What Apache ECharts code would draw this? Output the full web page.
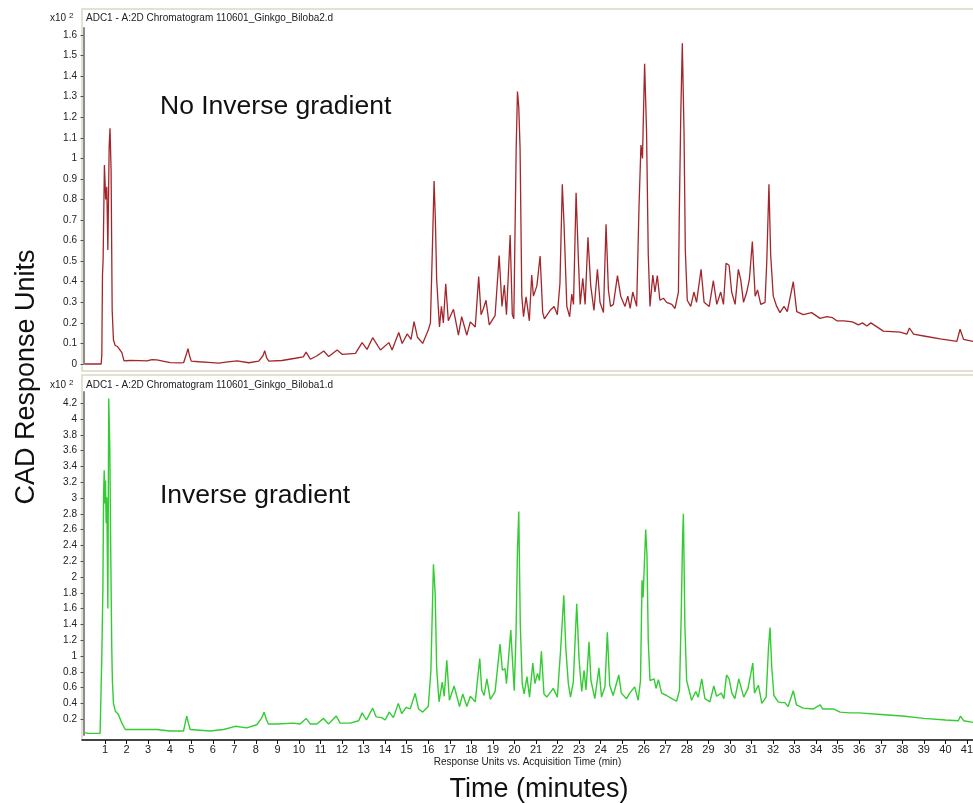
<!DOCTYPE html>
<html>
<head>
<meta charset="utf-8">
<script src="https://cdn.jsdelivr.net/npm/echarts@6/dist/echarts.min.js"></script>
<style>
  html, body { margin: 0; padding: 0; background: #fff; }
  #chart { width: 973px; height: 803px; }
</style>
</head>
<body>
<div id="chart"></div>
<script>
// top trace: No Inverse gradient (x10^2 response units)
const timeTop = [0.05,0.82,0.85,0.88,0.91,0.97,1.03,1.08,1.13,1.19,1.23,1.28,1.33,1.39,1.47,1.58,1.67,1.78,1.88,2.16,2.6,2.94,3.18,3.4,4.02,4.48,4.65,4.78,4.85,4.92,5.0,5.35,5.8,6.27,6.7,7.13,7.67,8.13,8.33,8.41,8.5,8.6,9.21,9.83,10.2,10.33,10.53,10.84,11.15,11.38,11.77,12.0,12.62,12.93,13.16,13.42,13.78,14.17,14.32,14.63,14.79,15.02,15.2,15.34,15.5,15.74,16.0,16.1,16.2,16.27,16.33,16.39,16.52,16.61,16.7,16.81,16.93,17.17,17.4,17.55,17.79,17.95,18.18,18.34,18.45,18.56,18.68,18.83,19.1,19.29,19.42,19.53,19.63,19.8,19.9,19.97,20.08,20.14,20.2,20.26,20.34,20.42,20.54,20.69,20.8,20.88,21.04,21.19,21.31,21.39,21.65,21.84,21.99,22.11,22.22,22.3,22.43,22.56,22.66,22.74,22.86,22.97,23.05,23.17,23.28,23.41,23.54,23.69,23.85,23.97,24.13,24.25,24.36,24.46,24.59,24.78,24.93,25.13,25.26,25.37,25.49,25.67,25.78,25.87,25.94,26.04,26.13,26.21,26.29,26.42,26.52,26.63,26.75,26.91,27.06,27.3,27.45,27.61,27.65,27.72,27.79,27.87,27.93,28.02,28.18,28.33,28.45,28.66,28.8,29.04,29.23,29.39,29.57,29.7,29.82,29.96,30.08,30.24,30.39,30.5,30.63,30.78,30.9,31.04,31.17,31.28,31.43,31.63,31.71,31.81,31.89,32.01,32.17,32.32,32.51,32.66,32.94,33.1,33.4,33.79,34.18,34.5,34.76,34.96,35.3,35.68,35.96,36.15,36.35,36.54,37.12,37.9,38.21,38.33,38.52,39.06,39.76,40.53,40.68,40.84,41.28];
const valueTop = [0,0,0.044,0.43,0.506,0.968,0.8,0.862,0.554,1.057,1.146,0.94,0.263,0.117,0.09,0.085,0.085,0.055,0.015,0.017,0.016,0.015,0.021,0.02,0.007,0.005,0.007,0.05,0.075,0.04,0.014,0.011,0.008,0.004,0.01,0.015,0.006,0.014,0.04,0.065,0.03,0.014,0.017,0.028,0.035,0.058,0.023,0.04,0.063,0.036,0.068,0.047,0.052,0.104,0.071,0.128,0.068,0.104,0.068,0.153,0.1,0.146,0.12,0.206,0.13,0.1,0.165,0.2,0.6,0.89,0.7,0.41,0.18,0.28,0.2,0.39,0.21,0.266,0.14,0.23,0.14,0.205,0.18,0.425,0.24,0.27,0.31,0.19,0.235,0.527,0.28,0.384,0.24,0.627,0.24,0.22,1.05,1.325,1.25,1.05,0.33,0.23,0.327,0.21,0.433,0.33,0.38,0.525,0.25,0.22,0.26,0.28,0.24,0.39,0.874,0.68,0.28,0.23,0.34,0.29,0.833,0.5,0.29,0.417,0.29,0.616,0.38,0.26,0.46,0.3,0.25,0.68,0.36,0.28,0.29,0.43,0.33,0.28,0.33,0.27,0.35,0.28,0.765,1.065,1.0,1.46,1.13,0.53,0.28,0.433,0.35,0.43,0.31,0.32,0.3,0.29,0.27,0.35,0.733,1.22,1.56,1.12,0.55,0.31,0.28,0.35,0.3,0.46,0.3,0.28,0.405,0.29,0.35,0.29,0.49,0.48,0.35,0.29,0.46,0.41,0.3,0.35,0.41,0.595,0.33,0.36,0.29,0.3,0.5,0.874,0.53,0.33,0.28,0.25,0.28,0.255,0.4,0.255,0.24,0.25,0.222,0.23,0.225,0.21,0.21,0.205,0.19,0.2,0.185,0.2,0.16,0.155,0.145,0.175,0.145,0.135,0.122,0.11,0.169,0.12,0.11];

// bottom trace: Inverse gradient
const timeBottom = [0.05,0.1,0.2,0.77,0.82,0.85,0.9,0.93,0.96,0.99,1.02,1.05,1.08,1.13,1.17,1.22,1.26,1.31,1.34,1.39,1.48,1.62,1.7,1.78,1.94,2.3,2.78,3.4,4.02,4.64,4.72,4.79,4.87,4.95,5.88,6.5,7.04,7.58,8.04,8.28,8.38,8.48,8.58,8.97,9.74,10.05,10.33,10.52,10.83,11.14,11.37,11.73,11.91,12.38,12.77,12.93,13.13,13.42,13.58,13.84,14.0,14.19,14.38,14.61,14.77,14.97,15.16,15.39,15.55,15.74,16.0,16.12,16.24,16.32,16.39,16.5,16.65,16.74,16.86,16.98,17.2,17.45,17.6,17.79,17.95,18.18,18.39,18.48,18.59,18.72,18.88,19.1,19.33,19.44,19.56,19.63,19.83,19.89,19.99,20.07,20.14,20.2,20.27,20.36,20.45,20.58,20.7,20.85,20.95,21.07,21.16,21.25,21.37,21.5,21.8,21.99,22.14,22.29,22.38,22.5,22.6,22.73,22.89,23.0,23.12,23.23,23.32,23.46,23.55,23.73,23.92,24.04,24.2,24.31,24.42,24.58,24.84,24.96,25.2,25.35,25.58,25.74,25.85,25.92,25.97,26.09,26.15,26.21,26.29,26.48,26.57,26.68,26.83,27.06,27.3,27.53,27.66,27.74,27.8,27.84,27.91,27.99,28.22,28.41,28.53,28.69,28.84,29.07,29.25,29.38,29.6,29.72,29.84,29.96,30.09,30.23,30.41,30.53,30.64,30.84,31.06,31.14,31.32,31.48,31.68,31.79,31.86,31.94,32.04,32.24,32.4,32.55,32.7,32.94,33.09,33.4,33.87,34.19,34.3,34.49,34.8,35.11,35.57,36.0,37.0,38.0,39.0,40.0,40.6,40.7,40.85,41.28];
const valueBottom = [0.03,0.04,0.02,0.02,0.04,1.0,1.85,3.0,3.35,2.93,3.22,2.68,3.01,1.6,4.26,3.65,2.42,1.12,0.69,0.4,0.3,0.26,0.24,0.15,0.07,0.07,0.07,0.07,0.05,0.05,0.15,0.24,0.15,0.07,0.05,0.07,0.11,0.09,0.13,0.22,0.29,0.2,0.14,0.14,0.15,0.14,0.21,0.14,0.14,0.21,0.14,0.24,0.15,0.15,0.18,0.28,0.19,0.34,0.23,0.22,0.19,0.29,0.22,0.4,0.27,0.35,0.33,0.525,0.33,0.29,0.36,0.8,2.16,1.79,0.84,0.42,0.67,0.49,0.947,0.44,0.62,0.36,0.52,0.36,0.49,0.42,0.968,0.57,0.5,0.71,0.45,0.55,1.15,0.82,0.84,0.65,1.33,1.03,0.56,1.25,2.34,2.83,1.4,0.65,0.52,0.74,0.48,0.91,0.65,0.78,0.69,1.06,0.52,0.48,0.59,0.48,1.07,1.77,1.11,0.65,0.48,0.67,1.66,0.95,0.55,0.82,0.57,1.18,0.69,0.46,0.85,0.48,0.61,1.3,0.63,0.5,0.76,0.53,0.46,0.53,0.61,0.44,0.69,1.96,1.74,2.6,2.27,1.19,0.69,0.71,0.59,0.7,0.53,0.5,0.46,0.43,0.57,1.54,2.47,2.8,1.37,0.69,0.44,0.55,0.48,0.71,0.46,0.42,0.62,0.49,0.53,0.46,0.76,0.71,0.53,0.46,0.71,0.59,0.48,0.59,0.91,0.53,0.63,0.4,0.48,1.11,1.36,0.86,0.5,0.42,0.41,0.41,0.36,0.56,0.38,0.34,0.33,0.38,0.33,0.33,0.33,0.29,0.28,0.28,0.26,0.24,0.21,0.19,0.18,0.24,0.18,0.16];

// tick labels
const yTicksTop = [0,0.1,0.2,0.3,0.4,0.5,0.6,0.7,0.8,0.9,1,1.1,1.2,1.3,1.4,1.5,1.6];
const yTicksBottom = [0.2,0.4,0.6,0.8,1,1.2,1.4,1.6,1.8,2,2.2,2.4,2.6,2.8,3,3.2,3.4,3.6,3.8,4,4.2];
const xTicks = [1,2,3,4,5,6,7,8,9,10,11,12,13,14,15,16,17,18,19,20,21,22,23,24,25,26,27,28,29,30,31,32,33,34,35,36,37,38,39,40,41];

const font = '"Liberation Sans", Arial, Helvetica, sans-serif';
const frameColor = '#dcd8c4';

function pairs(xs, ys) {
    return xs.map((x, i) => [x, ys[i]]);
}

const chart = echarts.init(document.getElementById('chart'), null, {renderer: 'canvas'});

function yAxisFor(gridIndex, max, ticks) {
    return {
        type: 'value', gridIndex: gridIndex, min: 0, max: max,
        axisLine: {show: true, lineStyle: {color: '#8c8c8c', width: 2}},
        axisTick: {show: true, length: 3, customValues: ticks, lineStyle: {color: '#555', width: 1}},
        axisLabel: {fontFamily: font, fontSize: 10, color: '#222', margin: 5, customValues: ticks},
        splitLine: {show: false}
    };
}

const option = {
    animation: false,
    backgroundColor: '#fff',
    grid: [
        {left: 82, top: 28, width: 891, height: 336, outerBoundsMode: 'none'},
        {left: 82, top: 392, width: 891, height: 343, outerBoundsMode: 'none'}
    ],
    xAxis: [
        {
            gridIndex: 0, type: 'value', min: -0.07, max: 41.28, show: false
        },
        {
            gridIndex: 1, type: 'value', min: -0.07, max: 41.28,
            offset: 5,
            axisLine: {show: true, onZero: false, lineStyle: {color: '#111', width: 1.5}},
            axisTick: {show: true, length: 4, customValues: xTicks, lineStyle: {color: '#111', width: 1}},
            axisLabel: {fontFamily: font, fontSize: 11, color: '#222', margin: 4, customValues: xTicks},
            splitLine: {show: false},
            name: 'Response Units vs. Acquisition Time (min)',
            nameLocation: 'middle',
            nameGap: 17,
            nameTextStyle: {fontFamily: font, fontSize: 10, color: '#222'}
        }
    ],
    yAxis: [
        yAxisFor(0, 1.634, yTicksTop),
        yAxisFor(1, 4.342, yTicksBottom)
    ],
    series: [
        {
            type: 'line', xAxisIndex: 0, yAxisIndex: 0,
            data: pairs(timeTop, valueTop),
            showSymbol: false, clip: false,
            lineStyle: {color: '#a3262b', width: 1.3},
            itemStyle: {color: '#a3262b'}
        },
        {
            type: 'line', xAxisIndex: 1, yAxisIndex: 1,
            data: pairs(timeBottom, valueBottom),
            showSymbol: false, clip: false,
            lineStyle: {color: '#33cc33', width: 1.4},
            itemStyle: {color: '#33cc33'}
        }
    ],
    graphic: [
        // panel frames
        {type: 'rect', shape: {x: 82, y: 9, width: 900, height: 362}, style: {fill: 'none', stroke: frameColor, lineWidth: 1.5}, z: -1},
        {type: 'rect', shape: {x: 82, y: 375, width: 900, height: 365}, style: {fill: 'none', stroke: frameColor, lineWidth: 1.5}, z: -1},
        // panel headers
        {type: 'text', left: 50, top: 12, style: {text: 'x10 {s|2}', rich: {s: {fontSize: 8, verticalAlign: 'top', padding: [0, 0, 4, 0], fontFamily: font}}, fontFamily: font, fontSize: 10, fill: '#222'}},
        {type: 'text', left: 86, top: 13, style: {text: 'ADC1 - A:2D Chromatogram 110601_Ginkgo_Biloba2.d', fontFamily: font, fontSize: 10, fill: '#222'}},
        {type: 'text', left: 50, top: 379, style: {text: 'x10 {s|2}', rich: {s: {fontSize: 8, verticalAlign: 'top', padding: [0, 0, 4, 0], fontFamily: font}}, fontFamily: font, fontSize: 10, fill: '#222'}},
        {type: 'text', left: 86, top: 380, style: {text: 'ADC1 - A:2D Chromatogram 110601_Ginkgo_Biloba1.d', fontFamily: font, fontSize: 10, fill: '#222'}},
        // annotations
        {type: 'text', left: 160, top: 93, style: {text: 'No Inverse gradient', fontFamily: font, fontSize: 26.5, fill: '#111'}},
        {type: 'text', left: 160, top: 482, style: {text: 'Inverse gradient', fontFamily: font, fontSize: 26.5, fill: '#111'}},
        // outer axis titles
        {type: 'text', x: 27, y: 377, rotation: Math.PI / 2, style: {text: 'CAD Response Units', fontFamily: font, fontSize: 27, fill: '#111', textAlign: 'center', textVerticalAlign: 'middle'}},
        {type: 'text', x: 539, y: 790, style: {text: 'Time (minutes)', fontFamily: font, fontSize: 27, fill: '#111', textAlign: 'center', textVerticalAlign: 'middle'}}
    ]
};

chart.setOption(option);
</script>
</body>
</html>
